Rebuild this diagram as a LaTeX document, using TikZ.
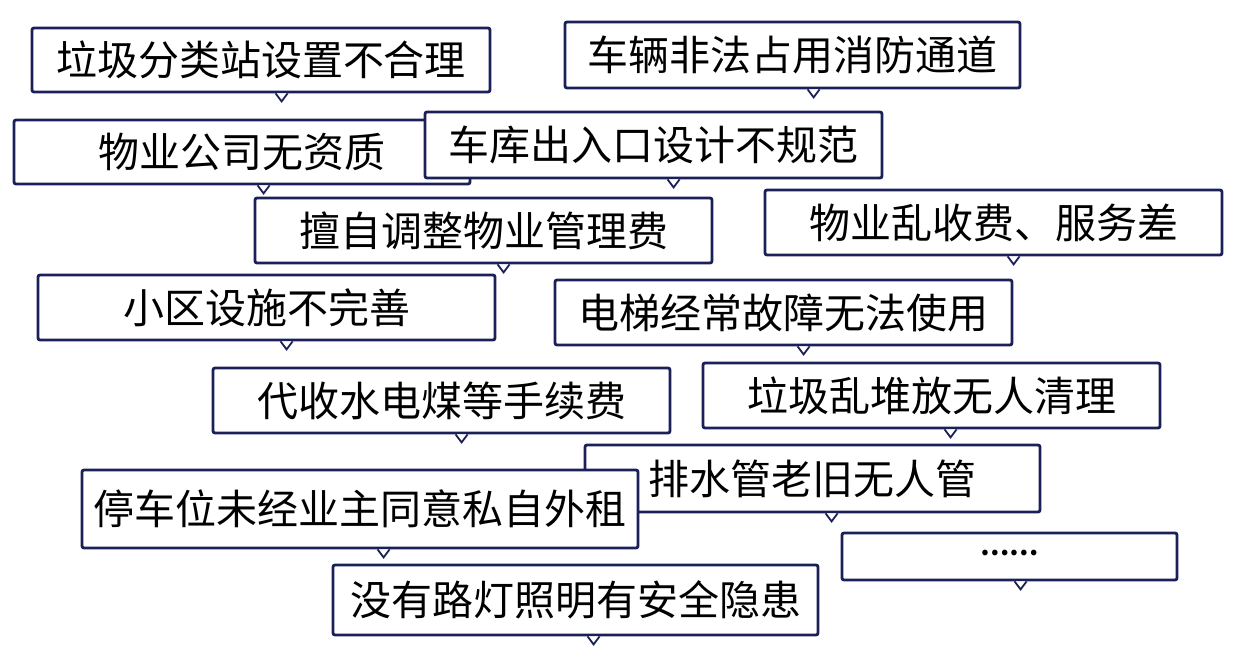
\documentclass[tikz,border=0pt]{standalone}
\usepackage{fontspec}
\setmainfont{Noto Sans CJK SC}
\usetikzlibrary{calc}
\definecolor{edgeblue}{RGB}{28,32,88}
\tikzset{
  tag/.style={draw=edgeblue, line width=2.8pt, fill=white, rounded corners=2pt,
    inner sep=0pt, font=\fontsize{41}{44}\selectfont},
  notch/.style={draw=edgeblue, line width=1.8pt, fill=white}
}
% box: name, left, top, right, bottom, pointer x, text
\newcommand{\tagbox}[7]{%
  \node[tag, minimum width={#4-#2}, minimum height={#5-#3}] (#1) at ({(#2+#4)/2},{(#3+#5)/2}) {#7};
  \draw[notch] ($(#1.south west)+({#6-#2-6},0)$) -- ++(6,8) -- ++(6,-8);
}
\begin{document}
\begin{tikzpicture}[x=1pt,y=1pt,yscale=-1]
\useasboundingbox (0,0) rectangle (1242,668);
\tagbox{lajifenlei}{32}{28}{490}{92}{283}{垃圾分类站设置不合理}
\tagbox{xiaofang}{565}{22}{1020}{88}{815}{车辆非法占用消防通道}
\tagbox{zizhi}{14}{120}{470}{184}{265}{物业公司无资质}
\tagbox{cheku}{425}{112}{882}{178}{675}{车库出入口设计不规范}
\tagbox{tiaozheng}{255}{198}{712}{263}{505}{擅自调整物业管理费}
\tagbox{shoufei}{765}{190}{1222}{255}{1015}{物业乱收费、服务差}
\tagbox{sheshi}{38}{275}{495}{340}{288}{小区设施不完善}
\tagbox{dianti}{555}{280}{1012}{345}{805}{电梯经常故障无法使用}
\tagbox{daishou}{213}{368}{670}{433}{463}{代收水电煤等手续费}
\tagbox{duifang}{703}{363}{1160}{428}{952}{垃圾乱堆放无人清理}
\tagbox{paishui}{585}{445}{1040}{512}{833}{排水管老旧无人管}
\tagbox{tingche}{82}{470}{638}{548}{385}{停车位未经业主同意私自外租}
\tagbox{more}{842}{533}{1177}{580}{1022}{\raisebox{8pt}{\fontsize{26}{26}\selectfont\bfseries ……}}
\tagbox{ludeng}{333}{565}{818}{635}{595}{没有路灯照明有安全隐患}
\end{tikzpicture}
\end{document}
